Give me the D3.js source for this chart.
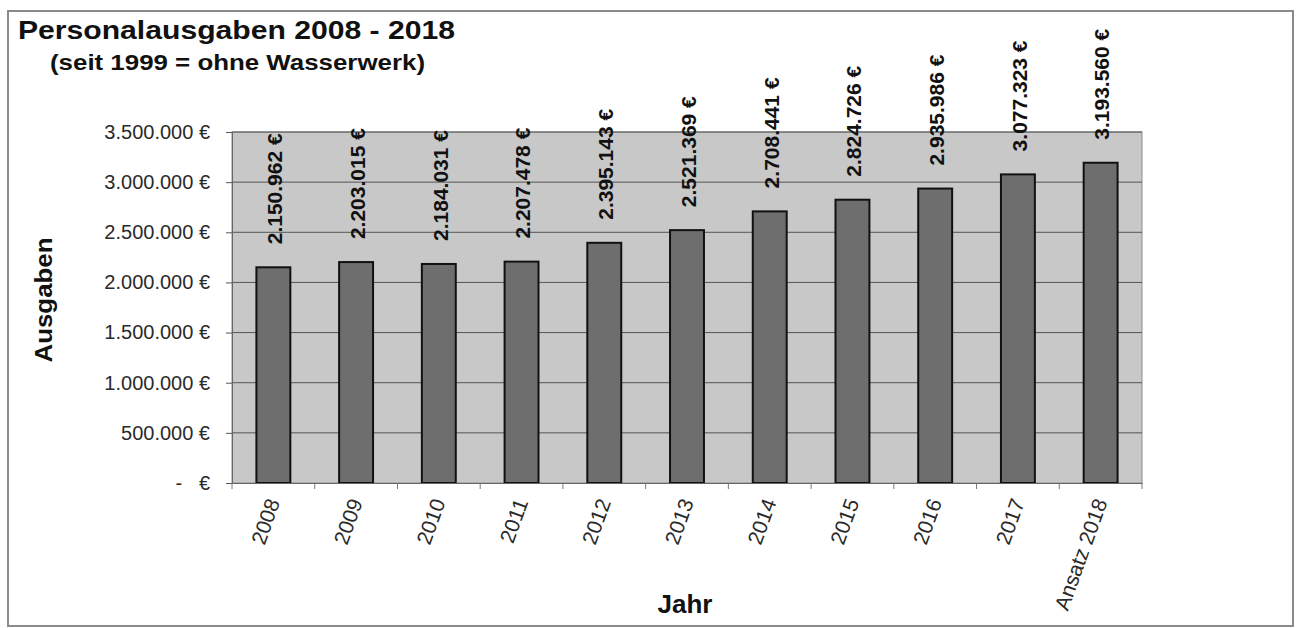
<!DOCTYPE html>
<html><head><meta charset="utf-8">
<script src="https://cdn.jsdelivr.net/npm/d3@7/dist/d3.min.js"></script>
<style>
html,body{margin:0;padding:0;background:#fff;}
text{font-family:"Liberation Sans",Arial,sans-serif;}
</style></head>
<body>
<svg id="chart" width="1298" height="628"></svg>
<script>
const categories = ["2008","2009","2010","2011","2012","2013","2014","2015","2016","2017","Ansatz 2018"];
const values = [2150962,2203015,2184031,2207478,2395143,2521369,2708441,2824726,2935986,3077323,3193560];
const yTicks = [0,500000,1000000,1500000,2000000,2500000,3000000,3500000];
const titleText = "Personalausgaben 2008 - 2018";
const subtitleText = "(seit 1999 = ohne Wasserwerk)";
const yAxisTitle = "Ausgaben";
const xAxisTitle = "Jahr";

const svg = d3.select("#chart");
const loc = d3.formatLocale({decimal:",", thousands:".", grouping:[3], currency:["",""]});
const fmt = loc.format(",.0f");
const eur = v => v === 0 ? "-\u00A0\u00A0\u00A0€" : fmt(v) + " €";

const m = {left:232, right:1142, top:132, bottom:483};

// outer frame
svg.append("rect").attr("x",8).attr("y",11).attr("width",1285).attr("height",615)
  .attr("fill","#fff").attr("stroke","#8a8a8a").attr("stroke-width",2);

const x = d3.scaleBand().domain(categories).range([m.left,m.right]).paddingInner(0.59).paddingOuter(0.295);
const y = d3.scaleLinear().domain([0,3500000]).range([m.bottom,m.top]);

// plot area
svg.append("rect").attr("x",m.left).attr("y",m.top).attr("width",m.right-m.left).attr("height",m.bottom-m.top)
  .attr("fill","#c8c8c8").attr("stroke","#8c8c8c").attr("stroke-width",1);

// gridlines
svg.append("g").selectAll("line").data(yTicks.filter(d=>d>0)).join("line")
  .attr("x1",m.left).attr("x2",m.right).attr("y1",d=>y(d)).attr("y2",d=>y(d))
  .attr("stroke","#555").attr("stroke-width",1);

// y axis
const yAxis = svg.append("g").attr("transform",`translate(${m.left},0)`)
  .call(d3.axisLeft(y).tickValues(yTicks).tickFormat(eur).tickSize(6).tickPadding(16));
yAxis.select(".domain").attr("stroke","#666");
yAxis.selectAll(".tick line").attr("stroke","#555");
yAxis.selectAll(".tick text").attr("font-size",20).attr("fill","#2a2a2a")
  .style("font-family","'Liberation Sans',Arial,sans-serif").style("white-space","pre");

// bars
svg.append("g").selectAll("rect").data(values).join("rect")
  .attr("x",(d,i)=>x(categories[i])).attr("width",x.bandwidth())
  .attr("y",d=>y(d)).attr("height",d=>y(0)-y(d))
  .attr("fill","#6e6e6e").attr("stroke","#111").attr("stroke-width",2);

// x axis
const xAxis = svg.append("g").attr("transform",`translate(0,${m.bottom})`)
  .call(d3.axisBottom(x).tickSize(0).tickFormat(""));
xAxis.select(".domain").attr("stroke","#666");
// band boundary ticks
const bounds = categories.map(c => x(c) - x.step()*x.paddingInner()/2).concat([m.right]);
svg.append("g").selectAll("line").data(bounds).join("line")
  .attr("x1",d=>d).attr("x2",d=>d).attr("y1",m.bottom).attr("y2",m.bottom+6)
  .attr("stroke","#777").attr("stroke-width",1);

// x labels
svg.append("g").selectAll("text").data(categories).join("text")
  .attr("transform",d=>`translate(${x(d)+x.bandwidth()/2+7},${m.bottom+19}) rotate(-70)`)
  .attr("text-anchor","end").attr("font-size",21).attr("fill","#2a2a2a").text(d=>d);

// data labels
svg.append("g").selectAll("text").data(values).join("text")
  .attr("transform",(d,i)=>`translate(${x(categories[i])+x.bandwidth()/2},${y(d)-23}) rotate(-90)`)
  .attr("dy","0.42em").attr("text-anchor","start").attr("font-size",21).attr("font-weight","bold")
  .attr("fill","#111").text(d=>eur(d));

// titles
svg.append("text").attr("x",18).attr("y",39).attr("font-size",25).attr("font-weight","bold")
  .attr("fill","#111").attr("textLength",437).attr("lengthAdjust","spacingAndGlyphs").text(titleText);
svg.append("text").attr("x",50).attr("y",70).attr("font-size",22).attr("font-weight","bold")
  .attr("fill","#111").attr("textLength",375).attr("lengthAdjust","spacingAndGlyphs").text(subtitleText);

svg.append("text").attr("transform","translate(52,300) rotate(-90)").attr("text-anchor","middle")
  .attr("font-size",23).attr("font-weight","bold").attr("fill","#111")
  .attr("textLength",125).attr("lengthAdjust","spacingAndGlyphs").text(yAxisTitle);

svg.append("text").attr("x",685).attr("y",613).attr("text-anchor","middle")
  .attr("font-size",26).attr("font-weight","bold").attr("fill","#111").text(xAxisTitle);
</script>
</body></html>
